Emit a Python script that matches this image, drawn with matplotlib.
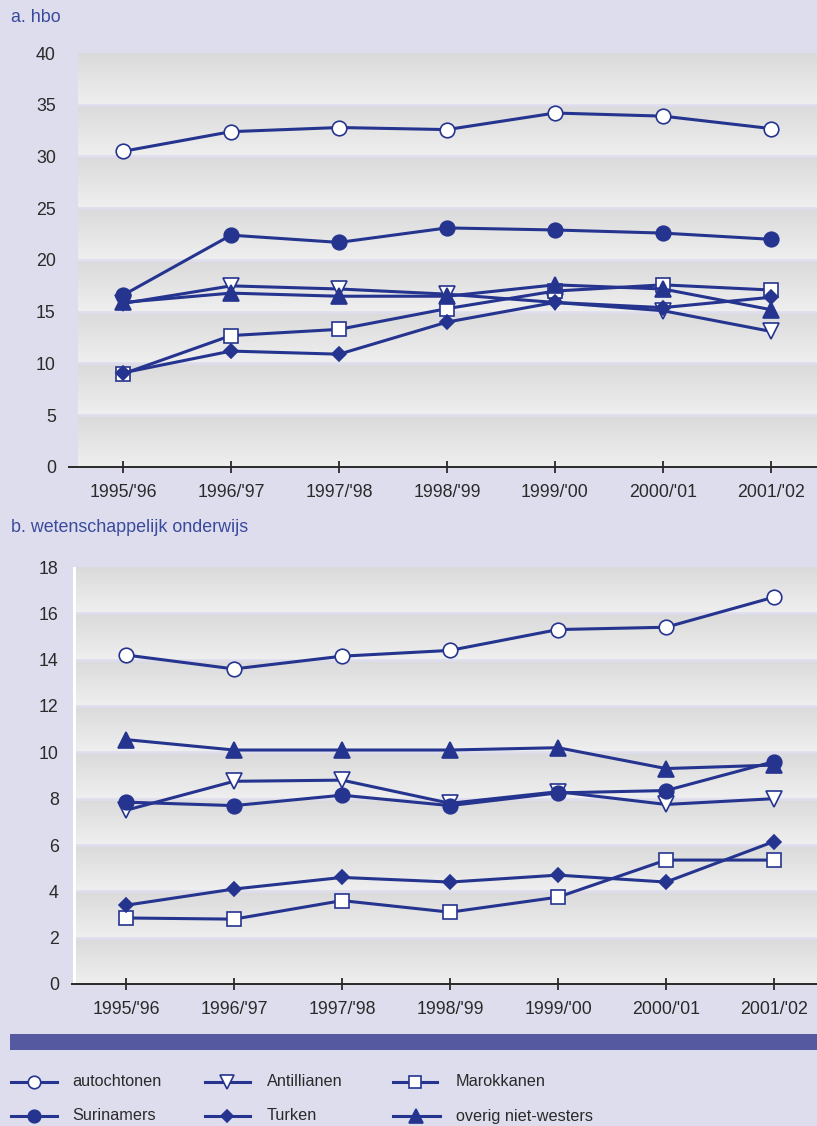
import numpy as np
import matplotlib
matplotlib.use("Agg")
import matplotlib.pyplot as plt
from matplotlib.patches import Rectangle
from matplotlib.colors import LinearSegmentedColormap

# ---------------- data ----------------
years = ["1995/'96", "1996/'97", "1997/'98", "1998/'99", "1999/'00", "2000/'01", "2001/'02"]

hbo_autochtonen = [30.5, 32.4, 32.8, 32.6, 34.2, 33.9, 32.7]
hbo_surinamers = [16.6, 22.4, 21.7, 23.1, 22.9, 22.6, 22.0]
hbo_antillianen = [15.8, 17.5, 17.2, 16.7, 15.9, 15.1, 13.1]
hbo_marokkanen = [9.0, 12.7, 13.3, 15.3, 17.0, 17.6, 17.1]
hbo_turken = [9.1, 11.2, 10.9, 14.0, 15.9, 15.4, 16.4]
hbo_overig = [15.9, 16.8, 16.5, 16.5, 17.6, 17.2, 15.2]

wo_autochtonen = [14.2, 13.6, 14.15, 14.4, 15.3, 15.4, 16.7]
wo_surinamers = [7.85, 7.7, 8.15, 7.7, 8.25, 8.35, 9.6]
wo_antillianen = [7.5, 8.75, 8.8, 7.8, 8.3, 7.75, 8.0]
wo_marokkanen = [2.85, 2.8, 3.6, 3.1, 3.75, 5.35, 5.35]
wo_turken = [3.4, 4.1, 4.6, 4.4, 4.7, 4.4, 6.15]
wo_overig = [10.55, 10.1, 10.1, 10.1, 10.2, 9.3, 9.45]

labels = ["autochtonen", "Antillianen", "Marokkanen", "Surinamers", "Turken", "overig niet-westers"]

# ---------------- style ----------------
W, H = 817, 1126
BG = "#dedded"
NAVY = "#25348f"
TITLE = "#3a4a9c"
TXT = "#2a2a2a"
plt.rcParams["font.family"] = ["Liberation Sans", "DejaVu Sans"]

styles = {
    "autochtonen": dict(marker="o", mfc="white", ms=10.5),
    "Antillianen": dict(marker="v", mfc="white", ms=11.5),
    "Marokkanen": dict(marker="s", mfc="white", ms=10),
    "Surinamers": dict(marker="o", mfc=NAVY, ms=10.5),
    "Turken": dict(marker="D", mfc=NAVY, ms=7.2),
    "overig niet-westers": dict(marker="^", mfc=NAVY, ms=11.5),
}

fig = plt.figure(figsize=(W / 100, H / 100), dpi=100, facecolor=BG)


def px_axes(left, top, right, bottom):
    return fig.add_axes([left / W, 1 - bottom / H, (right - left) / W, (bottom - top) / H])


grad = np.linspace(0, 1, 64).reshape(-1, 1)
band_cmap = LinearSegmentedColormap.from_list("band", ["#dadada", "#efefef"])


def draw_panel(ax, series, ymax, step, plot_left_px, ax_left_px, white_spine):
    ax.set_facecolor("none")
    xlo = -0.5
    xhi = xlo + (W - ax_left_px) / 108.0
    x0 = xlo + (plot_left_px - ax_left_px) / 108.0
    for lo in np.arange(0, ymax, step):
        ax.imshow(grad, cmap=band_cmap, extent=(x0, xhi, lo, lo + step),
                  aspect="auto", zorder=0, interpolation="bilinear")
    frac = (plot_left_px - ax_left_px) / (W - ax_left_px)
    for v in np.arange(step, ymax, step):
        ax.axhline(v, xmin=frac, xmax=1, color=BG, lw=1.8, zorder=1)
    ax.set_xlim(xlo, xhi)
    ax.set_ylim(0, ymax)
    if white_spine:
        ax.axvline(x0, color="white", lw=2.2, zorder=1)

    x = np.arange(len(years))
    for k, name in enumerate(labels):
        st = styles[name]
        ax.plot(x, series[name], color=NAVY, lw=2.2, marker=st["marker"], ms=st["ms"],
                mfc=st["mfc"], mec=NAVY, mew=1.2, zorder=3 + k, clip_on=False)

    for s in ["top", "right", "left"]:
        ax.spines[s].set_visible(False)
    ax.spines["bottom"].set_color(TXT)
    ax.spines["bottom"].set_linewidth(1.4)
    ax.spines["bottom"].set_zorder(2)
    ax.set_xticks(x)
    ax.set_xticklabels(years)
    yt = np.arange(0, ymax + 0.01, step)
    ax.set_yticks(yt)
    ax.set_yticklabels([f"{int(v)}" for v in yt])
    ax.tick_params(axis="x", direction="inout", length=8, width=1.3, color=TXT,
                   labelsize=12.8, labelcolor=TXT, pad=8.5)
    ax.tick_params(axis="y", left=False, labelsize=12.8, labelcolor=TXT, pad=6)


ax1 = px_axes(69, 53, 817, 467)
draw_panel(ax1, {
    "autochtonen": hbo_autochtonen, "Antillianen": hbo_antillianen,
    "Marokkanen": hbo_marokkanen, "Surinamers": hbo_surinamers,
    "Turken": hbo_turken, "overig niet-westers": hbo_overig}, 40, 5, 78, 69, False)

ax2 = px_axes(72, 567, 817, 984)
draw_panel(ax2, {
    "autochtonen": wo_autochtonen, "Antillianen": wo_antillianen,
    "Marokkanen": wo_marokkanen, "Surinamers": wo_surinamers,
    "Turken": wo_turken, "overig niet-westers": wo_overig}, 18, 2, 74, 72, True)

fig.text(11 / W, 1 - 18 / H, "a. hbo", color=TITLE, fontsize=12.9, va="center", ha="left")
fig.text(11 / W, 1 - 528 / H, "b. wetenschappelijk onderwijs", color=TITLE, fontsize=12.9,
         va="center", ha="left")

# dark bar
fig.add_artist(Rectangle((10 / W, 1 - 1050 / H), (W - 10) / W, 16 / H,
                         transform=fig.transFigure, color="#5459a0", lw=0))

# legend
lax = px_axes(0, 1058, 817, 1126)
lax.set_xlim(0, W)
lax.set_ylim(1126, 1058)
lax.axis("off")
positions = {
    "autochtonen": (11, 57, 72, 1082),
    "Antillianen": (205, 250, 267, 1082),
    "Marokkanen": (393, 437, 456, 1082),
    "Surinamers": (11, 57, 72, 1116),
    "Turken": (205, 250, 267, 1116),
    "overig niet-westers": (393, 440, 456, 1116),
}
leg_ms = {"o": 9, "v": 10.5, "s": 8.5, "D": 6.5, "^": 10.5}
for name in labels:
    hx0, hx1, tx, ty = positions[name]
    st = styles[name]
    lax.plot([hx0, hx1], [ty, ty], color=NAVY, lw=2.2, clip_on=False)
    lax.plot([(hx0 + hx1) / 2], [ty], marker=st["marker"], ms=leg_ms[st["marker"]],
             mfc=st["mfc"], mec=NAVY, mew=1.2, ls="none", clip_on=False)
    lax.text(tx, ty, name, fontsize=11.7, color=TXT, va="center", ha="left")

fig.savefig("out.png", dpi=100, facecolor=BG)
